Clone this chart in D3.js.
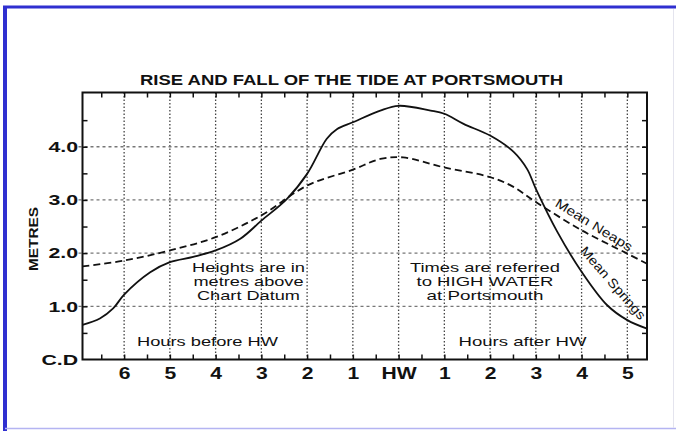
<!DOCTYPE html>
<html>
<head>
<meta charset="utf-8">
<script src="https://cdn.jsdelivr.net/npm/d3@7"></script>
<style>
  body { margin: 0; background: #fff; }
  text { font-family: "Liberation Sans", Arial, sans-serif; fill: #111; }
</style>
</head>
<body>
<div id="chart-container"></div>
<script>
// hours relative to high water (negative = before HW)
const springHours = [-6.91, -6.53, -6.24, -6, -5.43, -5, -4.49, -4, -3.46, -3, -2.44, -2, -1.57, -1.35, -1, -0.4, 0, 0.7, 1, 1.42, 2, 2.52, 2.81, 3, 3.47, 4, 4.56, 5, 5.43];
const springHeights = [0.65, 0.77, 0.96, 1.22, 1.64, 1.83, 1.93, 2.05, 2.27, 2.61, 3.02, 3.49, 4.15, 4.33, 4.46, 4.68, 4.77, 4.68, 4.62, 4.43, 4.21, 3.9, 3.58, 3.21, 2.4, 1.65, 1.02, 0.74, 0.58];
const neapHours = [-6.91, -6, -5, -4, -3, -2, -1, -0.4, 0.1, 1, 2, 2.5, 3, 4, 5, 5.43];
const neapHeights = [1.75, 1.86, 2.05, 2.3, 2.71, 3.27, 3.57, 3.77, 3.8, 3.61, 3.43, 3.25, 2.96, 2.43, 1.99, 1.8];

const xTickValues = [-6, -5, -4, -3, -2, -1, 0, 1, 2, 3, 4, 5];
const xTickLabels = ["6", "5", "4", "3", "2", "1", "HW", "1", "2", "3", "4", "5"];
const yTickValues = [0, 1, 2, 3, 4];
const yTickLabels = ["C.D", "1.0", "2.0", "3.0", "4.0"];

(function () {
    const W = 676, H = 431;
    const left = 82.5, right = 647, top = 92.5, bottom = 359.5;

    const x = d3.scaleLinear().domain([-6.91, 5.43]).range([left, right]);
    const y = d3.scaleLinear().domain([0, 5.02]).range([bottom, top]);

    const svg = d3.select("#chart-container")
        .append("svg")
        .attr("width", W)
        .attr("height", H);

    // blue page border
    svg.append("line").attr("x1", 3).attr("x2", W).attr("y1", 7).attr("y2", 7)
        .attr("stroke", "#2f2fd0").attr("stroke-width", 3);
    svg.append("line").attr("x1", 5).attr("x2", 5).attr("y1", 6).attr("y2", H)
        .attr("stroke", "#2f2fd0").attr("stroke-width", 4);
    svg.append("line").attr("x1", 5).attr("x2", W).attr("y1", 428.5).attr("y2", 428.5)
        .attr("stroke", "#b4b4f2").attr("stroke-width", 1.5);
    svg.append("line").attr("x1", 673.5).attr("x2", 673.5).attr("y1", 9).attr("y2", 428)
        .attr("stroke", "#e4e4ee").attr("stroke-width", 1);

    // title
    svg.append("text")
        .attr("x", 351.5).attr("y", 85)
        .attr("text-anchor", "middle")
        .attr("font-size", 15).attr("font-weight", "bold")
        .attr("textLength", 423).attr("lengthAdjust", "spacingAndGlyphs")
        .text("RISE AND FALL OF THE TIDE AT PORTSMOUTH");

    // dotted grid
    svg.append("g").selectAll("line")
        .data(xTickValues)
        .join("line")
        .attr("x1", d => x(d)).attr("x2", d => x(d))
        .attr("y1", top).attr("y2", bottom)
        .attr("stroke", "#444").attr("stroke-width", 1.3)
        .attr("stroke-dasharray", "1.5,2");

    svg.append("g").selectAll("line")
        .data(yTickValues.filter(d => d > 0))
        .join("line")
        .attr("x1", left - 4).attr("x2", right)
        .attr("y1", d => y(d)).attr("y2", d => y(d))
        .attr("stroke", "#777").attr("stroke-width", 1.3)
        .attr("stroke-dasharray", "3,3");

    // inward ticks on all four sides
    const halfHours = d3.range(-6.5, 5.01, 0.5);
    const halfMetres = d3.range(0.5, 5, 0.5);
    const tickAxis = (axis, tr) => svg.append("g")
        .attr("transform", tr)
        .call(axis)
        .call(g => g.select(".domain").remove())
        .call(g => g.selectAll("line").attr("stroke", "#111").attr("stroke-width", 1.5));

    tickAxis(d3.axisBottom(x).tickValues(halfHours).tickSize(-5).tickFormat(""), `translate(0,${bottom})`);
    tickAxis(d3.axisTop(x).tickValues(halfHours).tickSize(-5).tickFormat(""), `translate(0,${top})`);
    tickAxis(d3.axisLeft(y).tickValues(halfMetres).tickSize(-5).tickFormat(""), `translate(${left},0)`);
    tickAxis(d3.axisRight(y).tickValues(halfMetres).tickSize(-5).tickFormat(""), `translate(${right},0)`);

    // frame
    svg.append("rect")
        .attr("x", left).attr("y", top)
        .attr("width", right - left).attr("height", bottom - top)
        .attr("fill", "none").attr("stroke", "#111").attr("stroke-width", 2);

    // axis labels
    svg.append("g")
        .attr("transform", `translate(0,${bottom})`)
        .call(d3.axisBottom(x).tickValues(xTickValues).tickSize(0).tickPadding(8)
            .tickFormat((d, i) => xTickLabels[i]))
        .call(g => g.select(".domain").remove())
        .selectAll("text")
        .attr("font-size", 16).attr("font-weight", "bold")
        .attr("font-family", "Liberation Sans, Arial, sans-serif")
        .attr("fill", "#111")
        .attr("transform", "scale(1.32,1)");

    svg.append("g")
        .attr("transform", `translate(${left - 3},0)`)
        .call(d3.axisLeft(y).tickValues(yTickValues).tickSize(0).tickPadding(1)
            .tickFormat((d, i) => yTickLabels[i]))
        .call(g => g.select(".domain").remove())
        .selectAll("text")
        .attr("font-size", 15).attr("font-weight", "bold")
        .attr("font-family", "Liberation Sans, Arial, sans-serif")
        .attr("fill", "#111")
        .attr("transform", "scale(1.42,1)");

    svg.append("text")
        .attr("transform", "translate(38,239) rotate(-90)")
        .attr("text-anchor", "middle")
        .attr("font-size", 13).attr("font-weight", "bold")
        .attr("textLength", 64).attr("lengthAdjust", "spacingAndGlyphs")
        .text("METRES");

    // curves
    const line = d3.line()
        .x(d => x(d[0]))
        .y(d => y(d[1]))
        .curve(d3.curveCatmullRom.alpha(0.5));

    svg.append("path")
        .datum(d3.zip(neapHours, neapHeights))
        .attr("fill", "none")
        .attr("stroke", "#111")
        .attr("stroke-width", 1.8)
        .attr("stroke-dasharray", "7,4")
        .attr("d", line);

    svg.append("path")
        .datum(d3.zip(springHours, springHeights))
        .attr("fill", "none")
        .attr("stroke", "#111")
        .attr("stroke-width", 1.8)
        .attr("d", line);

    // notes inside the plot
    const note = (lines, cx, y0, lens) => {
        lines.forEach((t, i) => {
            svg.append("text")
                .attr("x", cx).attr("y", y0 + i * 14)
                .attr("text-anchor", "middle")
                .attr("font-size", 13)
                .attr("textLength", lens[i]).attr("lengthAdjust", "spacingAndGlyphs")
                .text(t);
        });
    };
    note(["Heights are in", "metres above", "Chart Datum"], 248.5, 272, [113, 110, 103]);
    note(["Times are referred", "to HIGH WATER", "at Portsmouth"], 485, 272, [150, 137, 117]);
    note(["Hours before HW"], 207.5, 345.5, [141]);
    note(["Hours after HW"], 522.5, 345.5, [128]);

    // curve names
    svg.append("text")
        .attr("transform", "translate(594,225) rotate(31.5)")
        .attr("text-anchor", "middle").attr("dominant-baseline", "central")
        .attr("font-size", 13)
        .attr("textLength", 88).attr("lengthAdjust", "spacingAndGlyphs")
        .text("Mean Neaps");

    svg.append("text")
        .attr("transform", "translate(613,283) rotate(49)")
        .attr("text-anchor", "middle").attr("dominant-baseline", "central")
        .attr("font-size", 13)
        .attr("textLength", 92).attr("lengthAdjust", "spacingAndGlyphs")
        .text("Mean Springs");
})();
</script>
</body>
</html>
